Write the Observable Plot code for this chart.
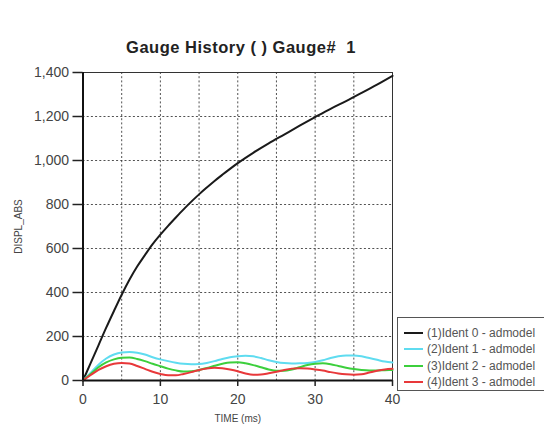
<!DOCTYPE html>
<html>
<head>
<meta charset="utf-8">
<script src="https://cdn.jsdelivr.net/npm/d3@7"></script>
<script src="https://cdn.jsdelivr.net/npm/@observablehq/plot@0.6"></script>
<style>
  html, body { margin: 0; padding: 0; background: #fff; }
  body { width: 544px; height: 428px; overflow: hidden; position: relative; font-family: "Liberation Sans", Arial, sans-serif; }
  #title { height: 60px; box-sizing: border-box; padding-top: 38px; width: 482px; text-align: center; font-weight: bold; font-size: 16.5px; letter-spacing: 0.5px; color: #222; line-height: 18px; white-space: pre; }
  #legend { position: absolute; left: 397px; top: 317px; width: 160px; height: 74px; border: 1px solid #555; background: #fff; box-sizing: border-box; }
  .item { position: absolute; left: 0; height: 14px; font-size: 12px; line-height: 14px; color: #555; white-space: nowrap; }
  .swatch { position: absolute; left: 6px; top: 6px; width: 19px; height: 2px; }
  .lbl { position: absolute; left: 29px; top: 0; }
</style>
</head>
<body>
<div id="title">Gauge History ( ) Gauge#  1</div>
<div id="chart"></div>
<div id="legend"></div>
<script>
const seriesNames = ["(1)Ident 0 - admodel", "(2)Ident 1 - admodel", "(3)Ident 2 - admodel", "(4)Ident 3 - admodel"];
const seriesColors = ["#1a1a1a", "#5fdcf0", "#3ccf3c", "#e8383a"];

const timeBlack = [0,1,2,3,4,5,6,7,8,9,10,11,12,13,14,15,16,17,18,19,20,22,24,26,28,30,32,34,36,38,40];
const valBlack  = [0,80,160,240,316,390,458,518,570,620,663,703,741,778,813,846,877,907,935,962,988,1035,1078,1118,1158,1197,1235,1270,1307,1345,1385];

const timeWave = [0,1,2,3,4,5,6,7,8,9,10,11,12,13,14,15,16,17,18,19,20,21,22,23,24,25,26,27,28,29,30,31,32,33,34,35,36,37,38,39,40];
const valCyan  = [0,35,72,100,118,127,129,126,118,106,96,88,81,76,74,75,80,88,98,106,110,112,110,102,92,84,79,77,78,80,84,92,102,110,114,114,110,102,94,86,82];
const valGreen = [0,30,60,82,96,103,104,98,88,76,65,54,46,41,42,48,57,67,76,82,83,78,70,60,50,44,44,50,60,70,76,78,74,66,58,52,48,46,46,47,48];
const valRed   = [0,25,48,65,76,80,77,66,53,40,30,24,24,30,38,48,55,58,56,50,42,32,26,27,33,40,48,54,56,54,50,45,38,32,28,26,28,36,44,50,53];

const xTicks = [0,10,20,30,40];
const yTicks = [0,200,400,600,800,1000,1200,1400];
const xGrid = [5,10,15,20,25,30,35];
const yGrid = [200,400,600,800,1000,1200];

const rows = [];
timeBlack.forEach((t,i) => rows.push({t, v: valBlack[i], s: seriesNames[0]}));
[valCyan, valGreen, valRed].forEach((arr, k) => timeWave.forEach((t,i) => rows.push({t, v: arr[i], s: seriesNames[k+1]})));

const chart = Plot.plot({
  width: 544,
  height: 368,
  marginTop: 12,
  marginLeft: 82.5,
  marginRight: 152,
  marginBottom: 48,
  style: { fontFamily: "'Liberation Sans', Arial, sans-serif", background: "#fff", overflow: "visible" },
  x: { domain: [0, 40] },
  y: { domain: [0, 1400] },
  color: { domain: seriesNames, range: seriesColors },
  marks: [
    Plot.gridX(xGrid, { stroke: "#333", strokeOpacity: 0.85, strokeDasharray: "2,2.2", strokeWidth: 1 }),
    Plot.gridY(yGrid, { stroke: "#333", strokeOpacity: 0.85, strokeDasharray: "2,2.2", strokeWidth: 1 }),
    Plot.frame({ stroke: "#333", strokeWidth: 1 }),
    Plot.line(rows, { x: "t", y: "v", z: "s", stroke: "s", strokeWidth: 2, curve: "monotone-x" }),
    Plot.ruleX([0], { stroke: "#111", strokeWidth: 2 }),
    Plot.ruleY([0], { stroke: "#111", strokeWidth: 2 }),
    Plot.axisY(yTicks, { tickSize: 10, tickPadding: 4, fontSize: 14, color: "#444", stroke: "#222", strokeWidth: 1.5, tickFormat: d3.format(","), label: null }),
    Plot.axisX(xTicks, { tickSize: 6, tickPadding: 8, fontSize: 14, color: "#444", stroke: "#222", strokeWidth: 1.5, label: null }),
    Plot.text(["DISPL_ABS"], { frameAnchor: "left", dx: -64, rotate: -90, fontSize: 10, fill: "#444", textAnchor: "middle", lineAnchor: "middle" }),
    Plot.text(["TIME (ms)"], { frameAnchor: "bottom", dy: 38, fontSize: 10, fill: "#444", textAnchor: "middle", lineAnchor: "middle" })
  ]
});
document.getElementById("chart").appendChild(chart);

const legend = document.getElementById("legend");
const tops = [8, 24, 41, 57];
seriesNames.forEach((name, i) => {
  const item = document.createElement("div");
  item.className = "item";
  item.style.top = tops[i] + "px";
  item.innerHTML = `<div class="swatch" style="background:${seriesColors[i]}"></div><div class="lbl">${name}</div>`;
  legend.appendChild(item);
});
</script>
</body>
</html>
